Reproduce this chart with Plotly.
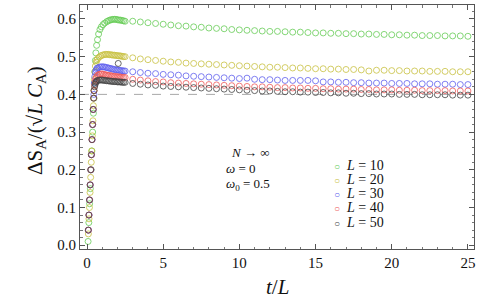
import plotly.graph_objects as go

# ---------------- data ----------------
labels = ["<i>L</i> = 10", "<i>L</i> = 20", "<i>L</i> = 30", "<i>L</i> = 40", "<i>L</i> = 50"]
colors = ["#66cc55", "#c8c040", "#6060ee", "#ee5a5a", "#444444"]

# dense early-time samples (t/L, value)
t_dense_10 = [0.07, 0.12, 0.17, 0.22, 0.27, 0.32, 0.37, 0.42, 0.46, 0.49, 0.52, 0.55, 0.58, 0.63, 0.69, 0.76,
              0.85, 0.94, 1.05, 1.16, 1.3, 1.4, 1.5, 1.6, 1.7, 1.8, 1.9, 2.0, 2.1, 2.2, 2.3, 2.4, 2.5]
y_dense_10 = [0.01, 0.06, 0.11, 0.15, 0.20, 0.25, 0.30, 0.35, 0.39, 0.43, 0.46, 0.49, 0.51, 0.53, 0.545, 0.56,
              0.572, 0.579, 0.585, 0.589, 0.593, 0.595, 0.597, 0.598, 0.599, 0.599, 0.599, 0.598, 0.597, 0.597,
              0.596, 0.595, 0.594]

t_dense_20 = [0.09, 0.13, 0.16, 0.2, 0.24, 0.28, 0.31, 0.35, 0.39, 0.42, 0.45, 0.48, 0.51, 0.55, 0.6, 0.65, 0.7,
              0.8, 0.9, 1.0, 1.1, 1.2, 1.3, 1.4, 1.5, 1.6, 1.7, 1.8, 1.9, 2.0, 2.1, 2.2, 2.3, 2.4, 2.5]
y_dense_20 = [0.03, 0.07, 0.10, 0.14, 0.18, 0.22, 0.25, 0.29, 0.33, 0.37, 0.41, 0.44, 0.46, 0.475, 0.485, 0.491,
              0.495, 0.499, 0.502, 0.504, 0.505, 0.506, 0.506, 0.506, 0.505, 0.505, 0.504, 0.504, 0.503, 0.503,
              0.502, 0.502, 0.501, 0.500, 0.500]

t_dense_30 = [0.10, 0.14, 0.18, 0.22, 0.26, 0.30, 0.34, 0.38, 0.42, 0.45, 0.48, 0.51, 0.55, 0.6, 0.65, 0.7,
              0.8, 0.9, 1.0, 1.1, 1.2, 1.3, 1.4, 1.5, 1.6, 1.7, 1.8, 1.9, 2.0, 2.1, 2.2, 2.3, 2.4, 2.5]
y_dense_30 = [0.04, 0.08, 0.12, 0.16, 0.20, 0.24, 0.28, 0.32, 0.36, 0.40, 0.43, 0.447, 0.458, 0.464, 0.468,
              0.470, 0.472, 0.473, 0.473, 0.473, 0.472, 0.471, 0.470, 0.469, 0.468, 0.467, 0.466, 0.465, 0.465,
              0.464, 0.463, 0.463, 0.462, 0.462]

t_dense_40 = [0.09, 0.13, 0.17, 0.21, 0.25, 0.29, 0.33, 0.37, 0.41, 0.44, 0.47, 0.5, 0.54, 0.58, 0.63, 0.7,
              0.8, 0.9, 1.0, 1.1, 1.2, 1.3, 1.4, 1.5, 1.6, 1.7, 1.8, 1.9, 2.0, 2.1, 2.2, 2.3, 2.4, 2.5]
y_dense_40 = [0.04, 0.08, 0.12, 0.16, 0.20, 0.24, 0.28, 0.32, 0.36, 0.39, 0.41, 0.425, 0.435, 0.442, 0.447,
              0.451, 0.453, 0.454, 0.454, 0.453, 0.452, 0.451, 0.450, 0.450, 0.449, 0.448, 0.448, 0.447, 0.447,
              0.446, 0.446, 0.445, 0.445, 0.445]

t_dense_50 = [0.08, 0.12, 0.16, 0.2, 0.24, 0.28, 0.32, 0.36, 0.4, 0.43, 0.46, 0.5, 0.54, 0.58, 0.63, 0.7,
              0.8, 0.9, 1.0, 1.1, 1.2, 1.3, 1.4, 1.5, 1.6, 1.7, 1.8, 1.9, 2.0, 2.05, 2.1, 2.2, 2.3, 2.4, 2.5]
y_dense_50 = [0.04, 0.08, 0.12, 0.16, 0.20, 0.24, 0.28, 0.32, 0.36, 0.39, 0.41, 0.42, 0.427, 0.432, 0.435,
              0.437, 0.438, 0.438, 0.438, 0.437, 0.437, 0.436, 0.436, 0.435, 0.435, 0.434, 0.434, 0.434, 0.433,
              0.482, 0.433, 0.433, 0.432, 0.432, 0.432]

# sparse late-time samples
t_sparse = [3.0, 3.5, 4.0, 4.5, 5.0, 5.5, 6.0, 6.5, 7.0, 7.5, 8.0, 8.5, 9.0, 9.5, 10.0, 10.5, 11.0, 11.5,
            12.0, 12.5, 13.0, 13.5, 14.0, 14.5, 15.0, 15.5, 16.0, 16.5, 17.0, 17.5, 18.0, 18.5, 19.0, 19.5,
            20.0, 20.5, 21.0, 21.5, 22.0, 22.5, 23.0, 23.5, 24.0, 24.5, 25.0]
y_sparse_10 = [0.594, 0.592, 0.590, 0.588, 0.586, 0.584, 0.582, 0.581, 0.579, 0.578, 0.576, 0.575, 0.574,
               0.572, 0.571, 0.570, 0.569, 0.568, 0.567, 0.567, 0.566, 0.565, 0.565, 0.564, 0.563, 0.563,
               0.562, 0.562, 0.561, 0.561, 0.560, 0.560, 0.559, 0.559, 0.558, 0.558, 0.557, 0.557, 0.556,
               0.556, 0.556, 0.555, 0.555, 0.555, 0.554]
y_sparse_20 = [0.497, 0.494, 0.492, 0.490, 0.488, 0.486, 0.485, 0.483, 0.482, 0.481, 0.480, 0.479, 0.478,
               0.477, 0.476, 0.475, 0.474, 0.473, 0.472, 0.472, 0.471, 0.470, 0.470, 0.469, 0.468, 0.468,
               0.467, 0.467, 0.466, 0.466, 0.465, 0.462, 0.464, 0.464, 0.463, 0.463, 0.462, 0.462, 0.462,
               0.461, 0.461, 0.461, 0.460, 0.460, 0.460]
y_sparse_30 = [0.460, 0.458, 0.456, 0.455, 0.453, 0.452, 0.451, 0.449, 0.448, 0.447, 0.446, 0.445, 0.444,
               0.443, 0.442, 0.443, 0.440, 0.439, 0.439, 0.438, 0.437, 0.437, 0.437, 0.437, 0.436, 0.433,
               0.433, 0.432, 0.432, 0.431, 0.431, 0.430, 0.430, 0.430, 0.429, 0.429, 0.429, 0.428, 0.428,
               0.428, 0.427, 0.427, 0.427, 0.426, 0.426]
y_sparse_40 = [0.440, 0.438, 0.436, 0.434, 0.433, 0.431, 0.430, 0.429, 0.428, 0.427, 0.426, 0.425, 0.424,
               0.423, 0.422, 0.421, 0.420, 0.420, 0.419, 0.418, 0.418, 0.417, 0.417, 0.416, 0.416, 0.415,
               0.415, 0.414, 0.414, 0.414, 0.413, 0.413, 0.412, 0.412, 0.412, 0.411, 0.411, 0.411, 0.410,
               0.410, 0.410, 0.410, 0.409, 0.409, 0.409]
y_sparse_50 = [0.429, 0.427, 0.425, 0.424, 0.422, 0.421, 0.420, 0.419, 0.418, 0.417, 0.416, 0.415, 0.414,
               0.413, 0.412, 0.411, 0.410, 0.409, 0.409, 0.408, 0.407, 0.407, 0.406, 0.406, 0.405, 0.405,
               0.404, 0.404, 0.403, 0.403, 0.402, 0.402, 0.401, 0.401, 0.401, 0.400, 0.400, 0.400, 0.399,
               0.399, 0.399, 0.399, 0.398, 0.398, 0.398]

x_ticks = [0, 5, 10, 15, 20, 25]
y_ticks = [0.0, 0.1, 0.2, 0.3, 0.4, 0.5, 0.6]
y_ticklabels = ["0.0", "0.1", "0.2", "0.3", "0.4", "0.5", "0.6"]
ref_level = 0.4

series_t = [t_dense_10 + t_sparse, t_dense_20 + t_sparse, t_dense_30 + t_sparse,
            t_dense_40 + t_sparse, t_dense_50 + t_sparse]
series_y = [y_dense_10 + y_sparse_10, y_dense_20 + y_sparse_20, y_dense_30 + y_sparse_30,
            y_dense_40 + y_sparse_40, y_dense_50 + y_sparse_50]

FONT = "Liberation Serif"
TXT = "#111111"

# plot-area geometry (pixels) used only for placing text
L_M, R_M, T_M, B_M = 80, 19, 5, 50
W, H = 493, 299
PW, PH = W - L_M - R_M, H - T_M - B_M


def px(xp):
    return (xp - L_M) / PW


def py(yp):
    return (H - B_M - yp) / PH


fig = go.Figure()
for lab, col, tx, ty in zip(labels, colors, series_t, series_y):
    fig.add_trace(go.Scatter(
        x=tx, y=ty, mode="markers", name=lab, showlegend=False,
        marker=dict(symbol="circle-open", size=6, color=col, line=dict(width=0.8, color=col)),
    ))

fig.add_shape(type="line", xref="paper", x0=0, x1=1, yref="y", y0=ref_level, y1=ref_level,
              line=dict(color="#a8a8a8", width=1, dash="dash"), layer="below")

axis_common = dict(
    showline=True, linecolor="#555555", linewidth=1, mirror="ticks",
    ticks="inside", ticklen=5, tickcolor="#555555", tickwidth=0.8,
    showgrid=False, zeroline=False, automargin=False,
    tickfont=dict(family=FONT, size=15, color=TXT),
)

fig.update_xaxes(range=[-0.46, 25.4], tickvals=x_ticks,
                 minor=dict(dtick=1, ticks="inside", ticklen=2.5, tickcolor="#777777", showgrid=False),
                 **axis_common)
fig.update_yaxes(range=[-0.01, 0.637], tickvals=y_ticks, ticktext=y_ticklabels,
                 minor=dict(dtick=0.02, ticks="inside", ticklen=2.5, tickcolor="#777777", showgrid=False),
                 **axis_common)

# axis titles
fig.add_annotation(xref="paper", yref="paper", x=px(277), y=py(287), text="<i>t</i>/<i>L</i>",
                   showarrow=False, xanchor="center", yanchor="middle",
                   font=dict(family=FONT, size=21, color=TXT))
fig.add_annotation(xref="paper", yref="paper", x=px(36), y=py(121),
                   text="ΔS<sub>A</sub>/(√<i>L</i> <i>C</i><sub>A</sub>)", textangle=-90,
                   showarrow=False, xanchor="center", yanchor="middle",
                   font=dict(family=FONT, size=21, color=TXT))

# parameter text
annot_font = dict(family=FONT, size=13, color=TXT)
fig.add_annotation(xref="paper", yref="paper", x=px(229), y=py(152),
                   text="<i>N</i> → ∞", showarrow=False, xanchor="left", yanchor="middle", font=annot_font)
fig.add_annotation(xref="paper", yref="paper", x=px(224), y=py(168),
                   text="<i>ω</i> = 0", showarrow=False, xanchor="left", yanchor="middle", font=annot_font)
fig.add_annotation(xref="paper", yref="paper", x=px(224), y=py(185),
                   text="<i>ω</i><sub>0</sub> = 0.5", showarrow=False, xanchor="left", yanchor="middle",
                   font=annot_font)

# legend (drawn as text so the entries can sit as close together as in the original)
legend_y = [165, 179, 193, 207, 222]
for lab, col, ly in zip(labels, colors, legend_y):
    fig.add_annotation(xref="paper", yref="paper", x=px(332), y=py(ly),
                       text=f"<span style='color:{col};font-size:10px'>○</span>  {lab}",
                       showarrow=False, xanchor="left", yanchor="middle",
                       font=dict(family=FONT, size=14, color=TXT))

fig.update_layout(
    width=W, height=H,
    margin=dict(l=L_M, r=R_M, t=T_M, b=B_M, autoexpand=False),
    paper_bgcolor="white", plot_bgcolor="white",
    showlegend=False,
)

fig.write_html("out.html", config={"displayModeBar": False},
               post_script="document.body.style.margin='0';document.body.style.overflow='hidden';")
